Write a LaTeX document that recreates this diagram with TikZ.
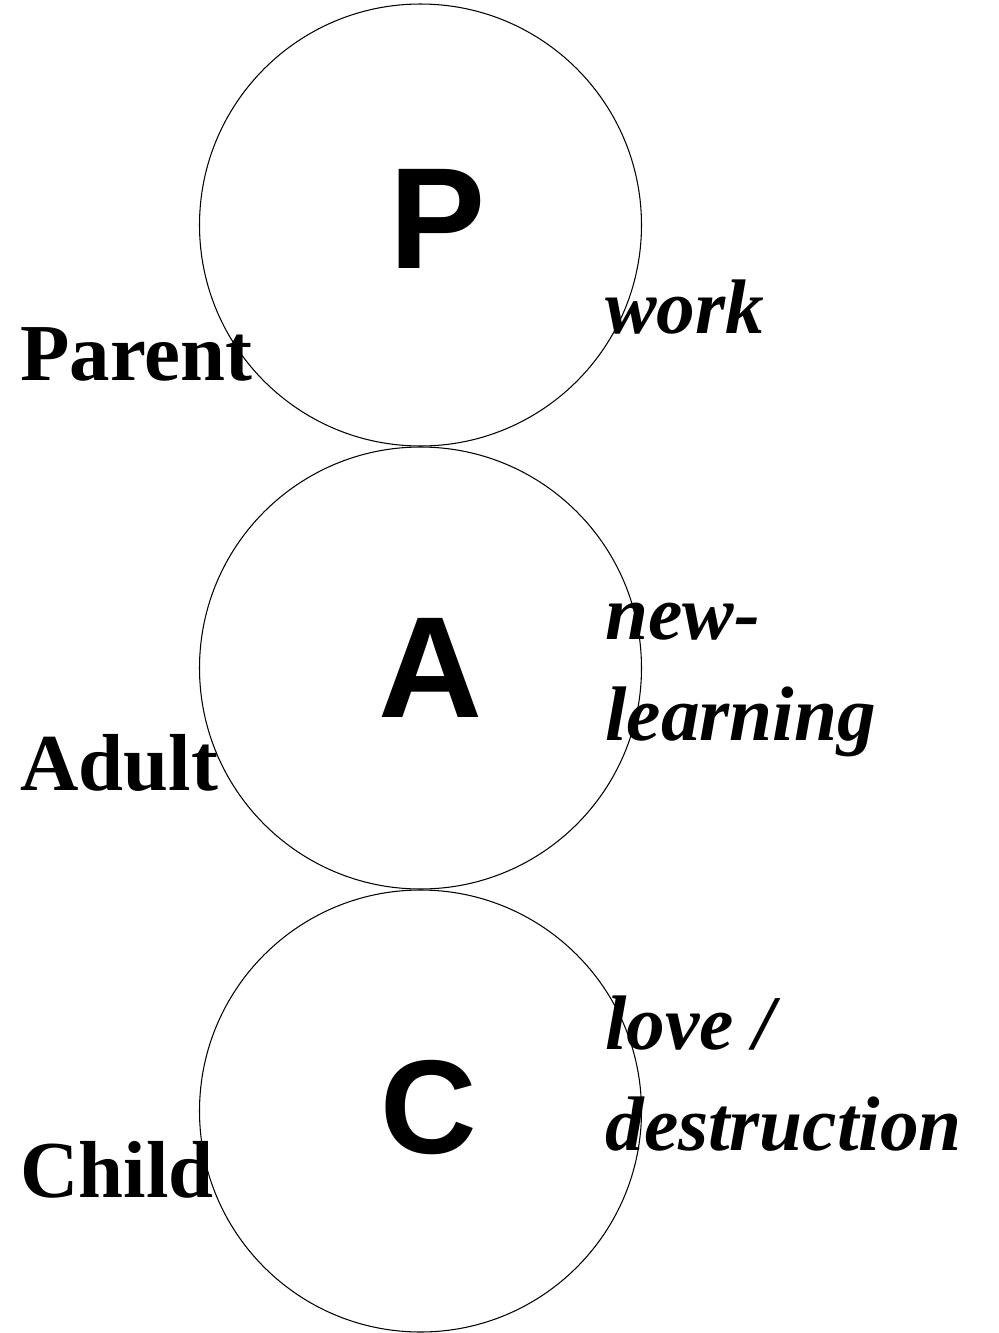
\documentclass[tikz,border=0pt]{standalone}
\usepackage{fontspec}
\setmainfont{Liberation Serif}
\newfontfamily\letterfont{Liberation Sans}

\tikzset{
  egostate/.style={draw,line width=0.6pt},
  letter/.style={font=\letterfont\bfseries\fontsize{82}{90}\selectfont,inner sep=0pt},
  statename/.style={anchor=base west,inner sep=0pt,font=\bfseries\fontsize{46}{50}\selectfont},
  drive/.style={anchor=base west,inner sep=0pt,align=left,
    font=\bfseries\itshape\fontsize{44}{57}\selectfont}
}

\begin{document}
\begin{tikzpicture}
\useasboundingbox (0,0) rectangle (19.98,-26.66);

% the three ego states
\draw[egostate] (8.41,-4.50) circle (4.42);
\draw[egostate] (8.41,-13.36) circle (4.42);
\draw[egostate] (8.41,-22.22) circle (4.42);

\node[letter] (p) at (8.76,-4.37) {P};
\node[letter] (a) at (8.62,-13.35) {A};
\node[letter,font=\letterfont\bfseries\fontsize{76}{90}\selectfont] (c) at (8.58,-22.16) {C};

% names on the left
\node[statename] (parent) at (0.40,-7.60) {Parent};
\node[statename] (adult) at (0.40,-15.80) {Adult};
\node[statename] (child) at (0.40,-23.94) {Child};

% drives on the right (base is the last line)
\node[drive] (work) at (12.10,-6.66) {work};
\node[drive] (learn) at (12.10,-14.80) {new-\\learning};
\node[drive] (love) at (12.10,-23.00) {love /\\destruction};

\end{tikzpicture}
\end{document}
